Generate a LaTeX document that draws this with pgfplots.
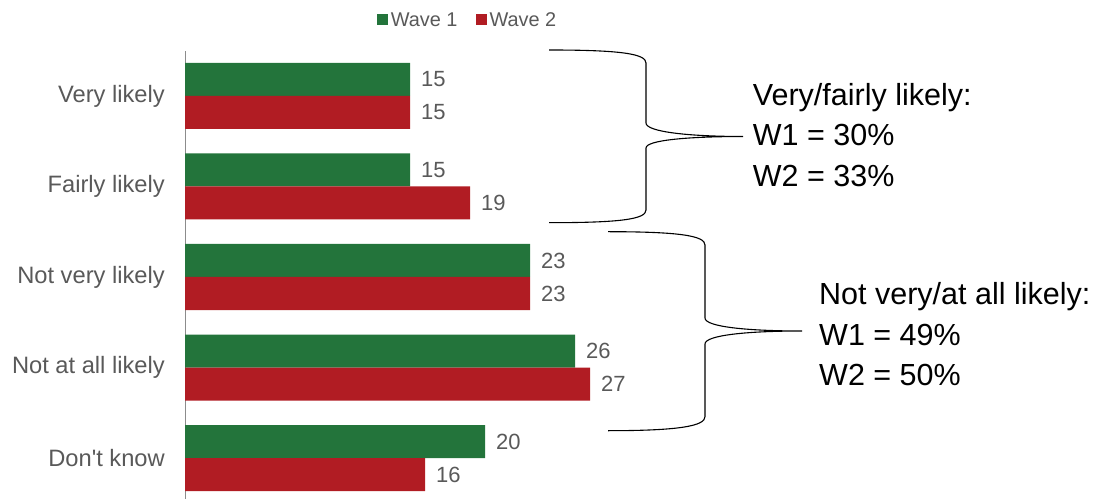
\documentclass[border=0pt]{standalone}
\usepackage{pgfplots}
\pgfplotsset{compat=1.18}
\usepackage{fontspec}
\setmainfont{Liberation Sans}
\definecolor{wgreen}{HTML}{23743B}
\definecolor{wred}{HTML}{B11C23}
\definecolor{labgray}{HTML}{595959}
\begin{document}
\begin{tikzpicture}[x=1pt,y=1pt]
\useasboundingbox (0,0) rectangle (1099,498);
\begin{axis}[
  at={(185pt,-5.25pt)}, anchor=south west,
  scale only axis, width=450pt, height=452.5pt,
  xmin=0, xmax=30, ymin=-0.5, ymax=4.5,
  xbar=0pt, bar width=33pt,
  hide x axis,
  axis y line*=left,
  y axis line style={draw=black!45, line width=0.8pt, -},
  ytick={0,1,2,3,4},
  yticklabels={Don\textquotesingle t know,Not at all likely,Not very likely,Fairly likely,Very likely},
  major tick length=0pt,
  yticklabel style={font=\fontsize{23.7}{28}\selectfont, text=labgray, inner sep=0pt, xshift=-20pt},
  /pgf/number format/assume math mode=true,
  nodes near coords,
  nodes near coords style={font=\fontsize{22}{26}\selectfont, text=labgray, anchor=west, inner sep=0pt, xshift=11pt},
  legend style={at={(axis description cs:0.629,1.068)}, anchor=center, draw=none, fill=none,
    legend columns=2, font=\fontsize{19.9}{23}\selectfont, text=labgray,
    /tikz/every even column/.append style={column sep=16pt},
    nodes={inner sep=2.5pt}},
  legend image code/.code={\fill[#1] (0pt,-5.5pt) rectangle (11pt,5.5pt);},
  clip=false,
]
\addplot[fill=wgreen, draw=none, bar shift=16.5pt] coordinates {(15,4) (15,3) (23,2) (26,1) (20,0)};
\addplot[fill=wred, draw=none, bar shift=-16.5pt] coordinates {(15,4) (19,3) (23,2) (27,1) (16,0)};
\legend{Wave 1, Wave 2}
\end{axis}
% grouping braces
\draw[line width=1.1pt] (549,448) .. controls (622,448) and (646,444) .. (646,435) -- (646,375)
  .. controls (646,366) and (690,361.5) .. (743,361.5)
  .. controls (690,361.5) and (646,358) .. (646,350) -- (646,288)
  .. controls (646,279) and (622,275.3) .. (549,275.3);
\draw[line width=1.1pt] (608,266.3) .. controls (681,266.3) and (705,262) .. (705,253) -- (705,180)
  .. controls (705,171) and (749,167) .. (802,167)
  .. controls (749,167) and (705,163) .. (705,154) -- (705,81.3)
  .. controls (705,72.3) and (681,67.3) .. (608,67.3);
% group totals
\begin{scope}[every node/.style={anchor=base west, inner sep=0pt, font=\fontsize{30.5}{36}\selectfont}]
\node at (752.7,392) {Very/fairly likely:};
\node at (752.7,352) {W1 = 30\%};
\node at (752.7,311) {W2 = 33\%};
\node at (819,193.7) {Not very/at all likely:};
\node at (819,153) {W1 = 49\%};
\node at (819,113) {W2 = 50\%};
\end{scope}
\end{tikzpicture}
\end{document}
